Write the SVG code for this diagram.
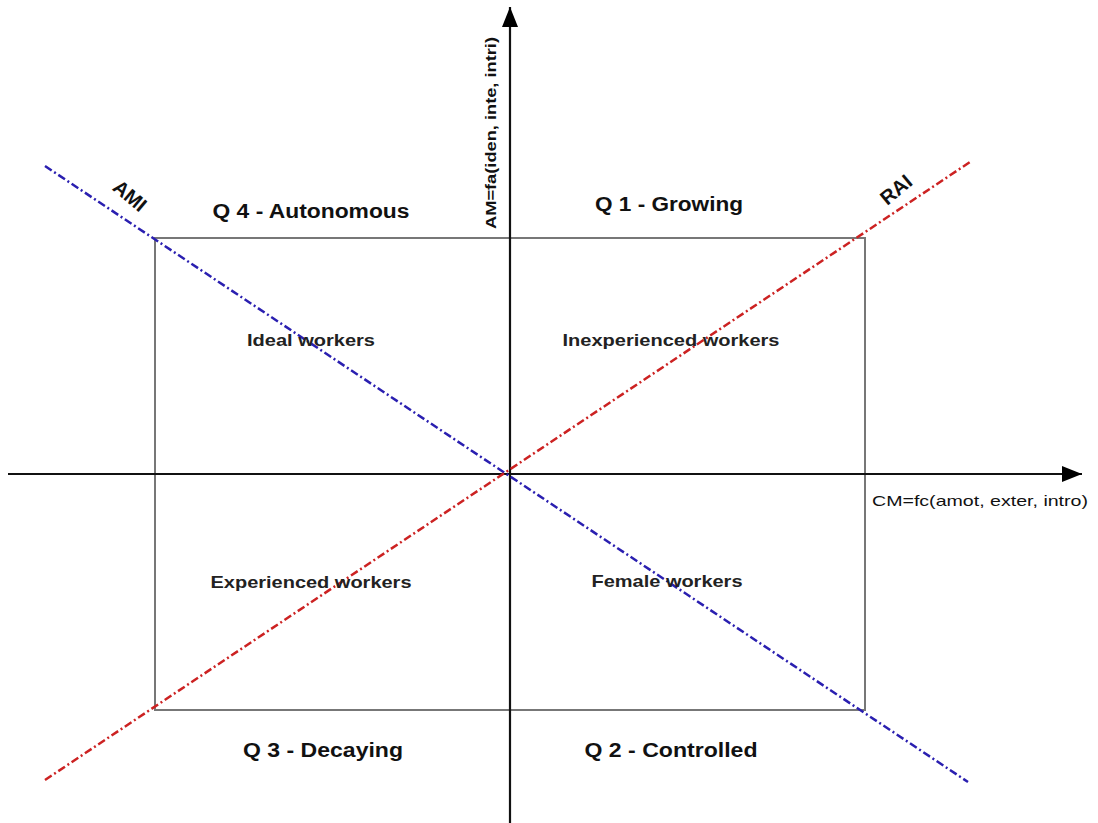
<svg xmlns="http://www.w3.org/2000/svg" width="1098" height="823" viewBox="0 0 1098 823">
<style>
.q{font-family:"Liberation Sans",Arial,sans-serif;font-weight:bold;font-size:20px;fill:#111;text-anchor:middle}
.w{font-family:"Liberation Sans",Arial,sans-serif;font-weight:bold;font-size:17px;fill:#222;text-anchor:middle}
.ax{font-family:"Liberation Sans",Arial,sans-serif;font-size:15px;fill:#111}
.axb{font-family:"Liberation Sans",Arial,sans-serif;font-weight:bold;font-size:15px;fill:#111}
.axis{stroke:#111;stroke-width:2.2;fill:none}
</style>
<defs>
<marker id="arrBig" viewBox="0 0 20 16" refX="20" refY="8" markerWidth="20" markerHeight="16" markerUnits="userSpaceOnUse" orient="auto">
<path d="M0,0 L20,8 L0,16 z" fill="#000"/>
</marker>
</defs>
<rect width="1098" height="823" fill="#fff"/>
<g id="frame">
<rect x="155" y="238" width="710" height="472" fill="none" stroke="#777" stroke-width="2"/>
</g>
<g id="connectors">
<line class="axis" x1="8" y1="474" x2="1082" y2="474" marker-end="url(#arrBig)"/>
<line class="axis" x1="510" y1="823" x2="510" y2="7" marker-end="url(#arrBig)"/>
<line x1="45" y1="166" x2="968" y2="782" stroke="#2a1fb0" stroke-width="2.5" stroke-dasharray="8,3,2,3"/>
<line x1="45" y1="780" x2="970" y2="162" stroke="#cc2222" stroke-width="2.5" stroke-dasharray="8,3,2,3"/>
</g>
<g id="q4"><text class="q" x="311" y="218" textLength="197" lengthAdjust="spacingAndGlyphs">Q 4 - Autonomous</text></g>
<g id="q1"><text class="q" x="669" y="211" textLength="148" lengthAdjust="spacingAndGlyphs">Q 1 - Growing</text></g>
<g id="q3"><text class="q" x="323" y="757" textLength="160" lengthAdjust="spacingAndGlyphs">Q 3 - Decaying</text></g>
<g id="q2"><text class="q" x="671" y="757" textLength="173" lengthAdjust="spacingAndGlyphs">Q 2 - Controlled</text></g>
<g id="ideal"><text class="w" x="311" y="346" textLength="128" lengthAdjust="spacingAndGlyphs">Ideal workers</text></g>
<g id="inexp"><text class="w" x="671" y="346" textLength="217" lengthAdjust="spacingAndGlyphs">Inexperienced workers</text></g>
<g id="exp"><text class="w" x="311" y="588" textLength="201" lengthAdjust="spacingAndGlyphs">Experienced workers</text></g>
<g id="female"><text class="w" x="667" y="587" textLength="151" lengthAdjust="spacingAndGlyphs">Female workers</text></g>
<g id="ami"><text class="q" transform="translate(125.5,201) rotate(40)" x="0" y="0" font-size="22">AMI</text></g>
<g id="rai"><text class="q" transform="translate(900.5,195) rotate(-40)" x="0" y="0" font-size="22">RAI</text></g>
<g id="yaxis-label"><text class="axb" transform="translate(496,133) rotate(-90)" text-anchor="middle" textLength="192" lengthAdjust="spacingAndGlyphs">AM=fa(iden, inte, intri)</text></g>
<g id="xaxis-label"><text class="ax" x="872" y="506" textLength="216" lengthAdjust="spacingAndGlyphs">CM=fc(amot, exter, intro)</text></g>
</svg>
